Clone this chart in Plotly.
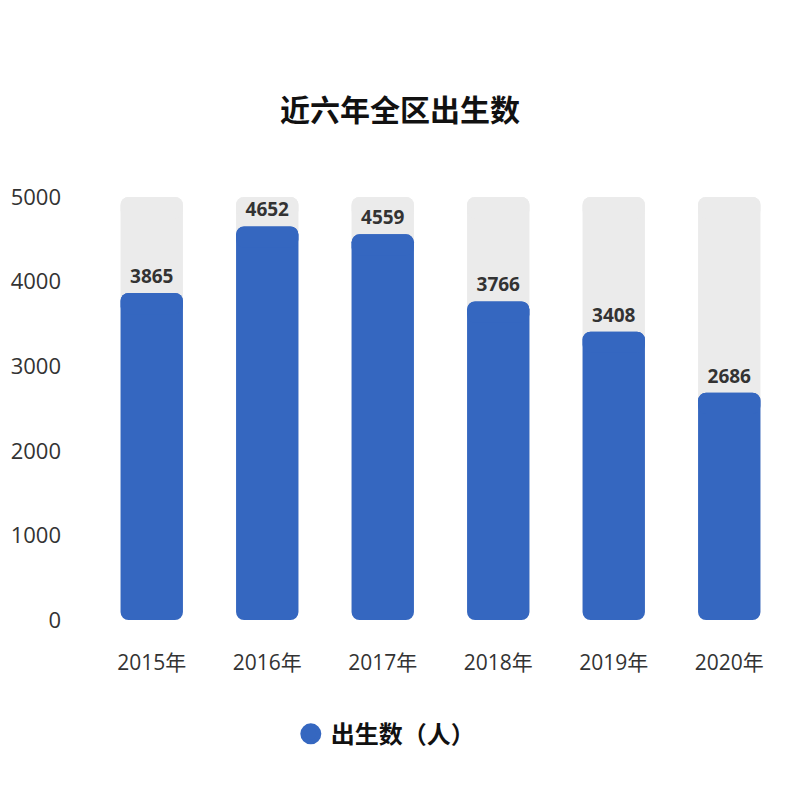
import plotly.graph_objects as go

years = ["2015年", "2016年", "2017年", "2018年", "2019年", "2020年"]
births = [3865, 4652, 4559, 3766, 3408, 2686]
axis_max = 5000
tick_vals = [0, 1000, 2000, 3000, 4000, 5000]
series_name = "出生数（人）"
title_text = "近六年全区出生数"

BLUE = "#3567c0"
GRAY = "#ebebeb"
FONT = "Open Sans, Noto Sans CJK SC, sans-serif"
BAR_W = 0.54
RAD = 8
CAP = 250  # data units of the rounded top cap piece

fig = go.Figure()


def rounded_bar(values, color):
    # main piece: drawn downward from the value to 0 (rounded bottom)
    fig.add_trace(go.Bar(x=years, y=[-v for v in values], base=values, width=BAR_W,
                         marker=dict(color=color, line_width=0, cornerradius=RAD),
                         showlegend=False, hoverinfo="skip"))
    # cap piece: drawn upward to the value (rounded top)
    starts = [v - CAP for v in values]
    fig.add_trace(go.Bar(x=years, y=[CAP] * len(values), base=starts, width=BAR_W,
                         marker=dict(color=color, line_width=0, cornerradius=RAD),
                         showlegend=False, hoverinfo="skip"))


rounded_bar([axis_max] * len(years), GRAY)
rounded_bar(births, BLUE)

# value labels
fig.add_trace(go.Scatter(x=years, y=births, mode="markers+text",
                         text=[f"<b>{v}</b>" for v in births], textposition="top center",
                         textfont=dict(size=19, color="#333333", family=FONT),
                         marker=dict(size=7, opacity=0), showlegend=False, hoverinfo="skip"))

# legend entry
fig.add_trace(go.Scatter(x=[years[0]], y=[None], mode="markers", name=f"<b>{series_name}</b>",
                         marker=dict(symbol="circle", size=16, color=BLUE,
                                     line=dict(width=5, color=BLUE)),
                         showlegend=True))

fig.update_layout(
    width=800, height=800,
    barmode="overlay",
    paper_bgcolor="white", plot_bgcolor="white",
    margin=dict(l=94, r=13, t=197, b=180),
    title=dict(text=f"<b>{title_text}</b>", x=0.5, xanchor="center", y=0.862, yanchor="middle",
               font=dict(size=30, color="#111111", family=FONT)),
    font=dict(family=FONT, color="#333333"),
    xaxis=dict(showgrid=False, showline=False, zeroline=False, ticks="",
               tickfont=dict(size=21, color="#333333"), ticklabelstandoff=28),
    yaxis=dict(range=[0, axis_max], tickvals=tick_vals, showgrid=False, showline=False,
               zeroline=False, ticks="", tickfont=dict(size=22, color="#333333"),
               ticklabelstandoff=32),
    legend=dict(orientation="h", x=0.284, xanchor="left", y=-0.27, yanchor="middle",
                font=dict(size=24, color="#111111", family=FONT), itemsizing="trace"),
)

fig.write_html("out.html")
